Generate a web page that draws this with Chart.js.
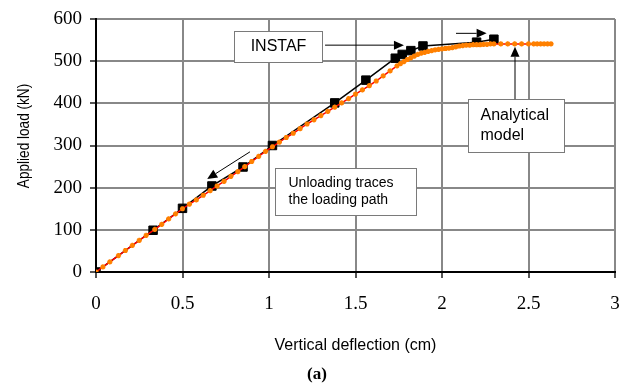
<!DOCTYPE html>
<html><head><meta charset="utf-8">
<script src="https://cdn.jsdelivr.net/npm/chart.js@4/dist/chart.umd.min.js"></script>
<style>html,body{margin:0;padding:0;background:#fff;}#wrap{width:629px;height:387px;}</style>
</head><body><div id="wrap"><canvas id="c" width="629" height="387"></canvas></div>
<script>
// ---- data ----
const xTickLabels = ['0', '0.5', '1', '1.5', '2', '2.5', '3'];
const yTickLabels = ['0', '100', '200', '300', '400', '500', '600'];

const instafX = [0, 0.33, 0.50, 0.67, 0.85, 1.02, 1.38, 1.56, 1.73, 1.77, 1.82, 1.89, 2.20, 2.30];
const instafY = [0, 99, 151, 204, 249, 300, 401, 455, 507, 516, 525, 536, 545, 552];

const analyticalX = [0, 0.04, 0.08, 0.13, 0.17, 0.21, 0.25, 0.29, 0.34, 0.38, 0.42, 0.46, 0.50, 0.54, 0.58, 0.62, 0.66, 0.70, 0.74, 0.78, 0.82, 0.86, 0.90, 0.94, 0.98, 1.02, 1.06, 1.10, 1.14, 1.18, 1.22, 1.26, 1.30, 1.34, 1.38, 1.42, 1.46, 1.50, 1.54, 1.58, 1.62, 1.66, 1.70, 1.74, 1.76, 1.78, 1.80, 1.82, 1.84, 1.86, 1.88, 1.90, 1.92, 1.94, 1.96, 1.98, 2.00, 2.02, 2.04, 2.06, 2.08, 2.10, 2.12, 2.14, 2.16, 2.18, 2.20, 2.22, 2.24, 2.26, 2.28, 2.30, 2.34, 2.38, 2.42, 2.46, 2.50, 2.53, 2.55, 2.57, 2.59, 2.61, 2.63];
const analyticalY = [0, 12, 24, 39, 51, 63, 75, 87, 101, 113, 126, 138, 150, 161, 171, 182, 193, 204, 215, 227, 238, 250, 262, 274, 286, 297, 308, 319, 329, 340, 351, 361, 371, 381, 391, 401, 411, 422, 432, 442, 453, 465, 477, 489, 494, 499, 504, 508, 512, 516, 519, 521, 523, 525, 527, 528, 529, 530, 531, 532, 534, 536, 537, 538, 538, 539, 539, 539, 540, 540, 541, 541, 541, 541, 541, 541, 541, 541, 541, 541, 541, 541, 541];

const seriesNames = ['INSTAF', 'Analytical model'];
const axisTitles = ['Vertical deflection (cm)', 'Applied load (kN)'];
const boxTexts = [['INSTAF'], ['Analytical', 'model'], ['Unloading traces', 'the loading path']];
const caption = '(a)';

// ---- annotations (data coordinates) ----
const boxes = [
  {x0: 0.798, x1: 1.306, y0: 498, y1: 572, lines: boxTexts[0], align: 'center', font: '16px "Liberation Sans"', lh: 20},
  {x0: 2.150, x1: 2.705, y0: 284.5, y1: 410, lines: boxTexts[1], align: 'left', pad: 12, font: '16px "Liberation Sans"', lh: 20},
  {x0: 1.035, x1: 1.850, y0: 135, y1: 246.5, lines: boxTexts[2], align: 'left', pad: 13, font: '14px "Liberation Sans"', lh: 17}
];
const arrows = [
  {x0: 1.324, y0: 538, x1: 1.780, y1: 538},
  {x0: 2.081, y0: 566, x1: 2.258, y1: 566},
  {x0: 2.422, y0: 410, x1: 2.422, y1: 534},
  {x0: 0.890, y0: 285, x1: 0.643, y1: 220.5}
];

const annotPlugin = {
  id: 'annot',
  afterDatasetsDraw(chart) {
    const {ctx, scales: {x, y}} = chart;
    const X = v => x.getPixelForValue(v), Y = v => y.getPixelForValue(v);
    ctx.save();
    boxes.forEach(b => {
      const l = Math.round(X(b.x0)) + 0.5, r = Math.round(X(b.x1)) + 0.5;
      const t = Math.round(Y(b.y1)) + 0.5, bt = Math.round(Y(b.y0)) + 0.5;
      ctx.fillStyle = '#fff';
      ctx.fillRect(l, t, r - l, bt - t);
      ctx.strokeStyle = '#7a7a7a';
      ctx.lineWidth = 1;
      ctx.strokeRect(l, t, r - l, bt - t);
      ctx.fillStyle = '#000';
      ctx.font = b.font;
      ctx.textBaseline = 'middle';
      const cy = (t + bt) / 2;
      const n = b.lines.length;
      b.lines.forEach((s, i) => {
        const yy = cy + (i - (n - 1) / 2) * b.lh;
        if (b.align === 'center') { ctx.textAlign = 'center'; ctx.fillText(s, (l + r) / 2, yy); }
        else { ctx.textAlign = 'left'; ctx.fillText(s, l + b.pad, yy); }
      });
    });
    arrows.forEach(a => {
      const x0 = X(a.x0), y0 = Y(a.y0), x1 = X(a.x1), y1 = Y(a.y1);
      const ang = Math.atan2(y1 - y0, x1 - x0);
      const L = 10, W = 4.5;
      const bx = x1 - L * Math.cos(ang), by = y1 - L * Math.sin(ang);
      ctx.strokeStyle = '#000'; ctx.lineWidth = 1;
      ctx.beginPath(); ctx.moveTo(x0, y0); ctx.lineTo(bx, by); ctx.stroke();
      ctx.fillStyle = '#000';
      ctx.beginPath();
      ctx.moveTo(x1, y1);
      ctx.lineTo(bx + W * Math.sin(ang), by - W * Math.cos(ang));
      ctx.lineTo(bx - W * Math.sin(ang), by + W * Math.cos(ang));
      ctx.closePath(); ctx.fill();
    });
    ctx.restore();
  },
  afterDraw(chart) {
    const ctx = chart.ctx;
    ctx.save();
    ctx.fillStyle = '#000';
    ctx.font = 'bold 17px "Liberation Serif"';
    ctx.textAlign = 'center';
    ctx.textBaseline = 'middle';
    ctx.fillText(caption, 317, 375);
    ctx.restore();
    // y-axis title (narrow face as in the reference)
    ctx.save();
    ctx.translate(24, 136);
    ctx.rotate(-Math.PI / 2);
    ctx.scale(0.8, 1);
    ctx.fillStyle = '#000';
    ctx.font = '17px "Liberation Sans"';
    ctx.textAlign = 'center';
    ctx.textBaseline = 'middle';
    ctx.fillText(axisTitles[1], 0, 0);
    ctx.restore();
  }
};

new Chart(document.getElementById('c'), {
  type: 'scatter',
  data: {
    datasets: [
      {
        label: seriesNames[1],
        data: analyticalX.map((v, i) => ({x: v, y: analyticalY[i]})),
        showLine: true,
        borderColor: '#ff0000',
        borderWidth: 1.5,
        pointStyle: 'star',
        pointRadius: 2.6,
        pointBorderWidth: 1.6,
        pointBorderColor: '#ff8000',
        pointBackgroundColor: '#ff8000',
        order: 0
      },
      {
        label: seriesNames[0],
        data: instafX.map((v, i) => ({x: v, y: instafY[i]})),
        showLine: true,
        borderColor: '#000',
        borderWidth: 1.5,
        pointStyle: 'rect',
        pointRadius: 6,
        pointBorderWidth: 1,
        pointBorderColor: '#000',
        pointBackgroundColor: '#000',
        order: 1
      }
    ]
  },
  options: {
    responsive: false,
    animation: false,
    devicePixelRatio: 1,
    layout: {padding: {top: 19, right: 14, left: 0, bottom: 0}},
    plugins: {legend: {display: false}, tooltip: {enabled: false}},
    scales: {
      x: {
        type: 'linear', min: 0, max: 3,
        afterFit(s) { s.height = 115; s.paddingRight = 0; s.paddingLeft = 0; },
        ticks: {stepSize: 0.5, padding: 15, color: '#000', font: {family: 'Liberation Serif', size: 19},
          callback: v => xTickLabels[Math.round(v / 0.5)]},
        grid: {color: '#888', lineWidth: 2, tickLength: 6, tickColor: '#555'},
        border: {color: '#000', width: 2},
        title: {display: true, text: axisTitles[0], color: '#000', font: {family: 'Liberation Sans', size: 16}, padding: {top: 0, bottom: 32}}
      },
      y: {
        type: 'linear', min: 0, max: 600,
        afterFit(s) { s.width = 96; s.paddingTop = 0; s.paddingBottom = 0; },
        ticks: {stepSize: 100, padding: 8, color: '#000', font: {family: 'Liberation Serif', size: 19},
          callback: v => yTickLabels[Math.round(v / 100)]},
        grid: {color: '#888', lineWidth: 2, tickLength: 6, tickColor: '#555'},
        border: {color: '#000', width: 2},
        title: {display: false, text: axisTitles[1]}
      }
    }
  },
  plugins: [annotPlugin]
});
</script></body></html>
